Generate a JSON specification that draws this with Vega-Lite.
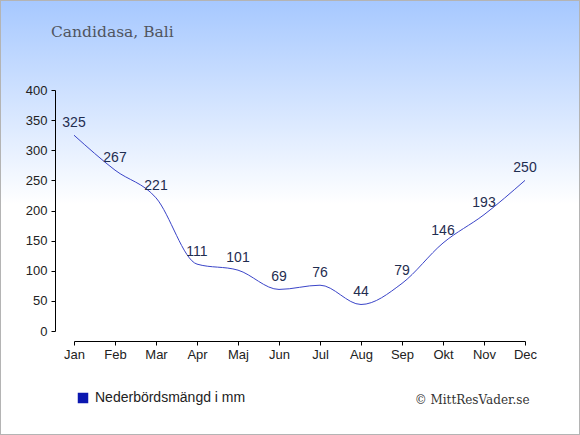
{
  "$schema": "https://vega.github.io/schema/vega-lite/v6.json",
  "width": 580,
  "height": 435,
  "autosize": "none",
  "padding": 0,
  "background": "#ffffff",
  "title": {
    "text": "Candidasa, Bali",
    "anchor": "start",
    "frame": "group",
    "orient": "top",
    "dx": 51,
    "offset": -52,
    "baseline": "alphabetic",
    "font": "DejaVu Serif",
    "fontSize": 15.5,
    "fontWeight": "normal",
    "color": "#505560"
  },
  "data": {
    "values": [
      {"month": "Jan", "mm": 325},
      {"month": "Feb", "mm": 267},
      {"month": "Mar", "mm": 221},
      {"month": "Apr", "mm": 111},
      {"month": "Maj", "mm": 101},
      {"month": "Jun", "mm": 69},
      {"month": "Jul", "mm": 76},
      {"month": "Aug", "mm": 44},
      {"month": "Sep", "mm": 79},
      {"month": "Okt", "mm": 146},
      {"month": "Nov", "mm": 193},
      {"month": "Dec", "mm": 250}
    ]
  },
  "encoding": {
    "x": {
      "field": "month",
      "type": "ordinal",
      "sort": null,
      "scale": {"type": "point", "padding": 0, "range": [74, 525]},
      "axis": {
        "title": "© MittResVader.se",
        "titleFont": "DejaVu Serif",
        "titleFontSize": 12,
        "titleFontWeight": "normal",
        "titleColor": "#333333",
        "titleAlign": "right",
        "titleBaseline": "alphabetic",
        "titleX": 529,
        "titleY": 62,
        "offset": -94,
        "labelAngle": 0,
        "labelFont": "Liberation Sans",
        "labelFontSize": 13,
        "labelColor": "#222222",
        "labelPadding": 3,
        "tickSize": 4,
        "tickColor": "#000000",
        "domainColor": "#000000",
        "grid": false
      }
    },
    "y": {
      "field": "mm",
      "type": "quantitative",
      "scale": {"domain": [0, 400], "range": [331, 90]},
      "axis": {
        "title": null,
        "values": [0, 50, 100, 150, 200, 250, 300, 350, 400],
        "offset": -55,
        "labelFont": "Liberation Sans",
        "labelFontSize": 13,
        "labelColor": "#222222",
        "labelPadding": 4,
        "tickSize": 4,
        "tickColor": "#000000",
        "domainColor": "#000000",
        "grid": false
      }
    }
  },
  "layer": [
    {
      "mark": {"type": "line", "interpolate": "monotone", "strokeWidth": 1},
      "encoding": {
        "color": {
          "datum": "Nederbördsmängd i mm",
          "type": "nominal",
          "scale": {"range": ["#3a44c8"]},
          "legend": {
            "title": null,
            "orient": "none",
            "legendX": 76,
            "legendY": 391,
            "symbolType": "square",
            "symbolSize": 110,
            "labelFont": "Liberation Sans",
            "labelFontSize": 14,
            "labelColor": "#222222",
            "labelOffset": 5,
            "encode": {
              "symbols": {"update": {"fill": {"value": "#0b17b0"}, "stroke": {"value": "#0b17b0"}, "strokeWidth": {"value": 0}}}
            }
          }
        }
      }
    },
    {
      "mark": {
        "type": "text",
        "dy": -8,
        "baseline": "alphabetic",
        "font": "Liberation Sans",
        "fontSize": 14,
        "color": "#1f2d50"
      },
      "encoding": {"text": {"field": "mm", "type": "quantitative"}}
    }
  ],
  "config": {
    "view": {
      "stroke": "#b4b4b4",
      "strokeWidth": 2,
      "fill": {
        "gradient": "linear",
        "x1": 0,
        "y1": 0,
        "x2": 0,
        "y2": 1,
        "stops": [
          {"offset": 0, "color": "#a6c8ff"},
          {"offset": 0.47, "color": "#ffffff"},
          {"offset": 1, "color": "#ffffff"}
        ]
      }
    }
  }
}
